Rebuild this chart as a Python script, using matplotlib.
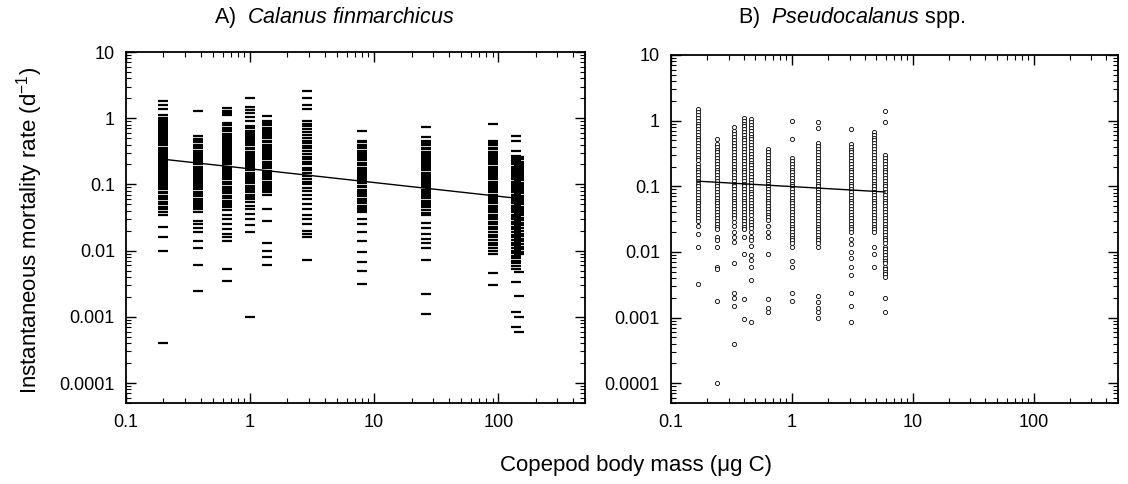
import numpy as np
import matplotlib
matplotlib.use("Agg")
import matplotlib.pyplot as plt

plt.rcParams["font.family"] = ["Liberation Sans", "DejaVu Sans"]
plt.rcParams["mathtext.fontset"] = "custom"
plt.rcParams["mathtext.rm"] = "Liberation Sans"
plt.rcParams["mathtext.it"] = "Liberation Sans:italic"

# --- data ---------------------------------------------------------------
# Panel A: Calanus finmarchicus (body mass in ug C, mortality in d^-1)
cal_mass = [0.2, 0.38, 0.65, 1.0, 1.37, 2.9, 8.0, 26.0, 90.0, 138.0, 146.0]
cal_rates = [
    [1.85, 1.6, 1.4, 1.1, 1.0, 0.93, 0.87, 0.82, 0.77, 0.72, 0.68, 0.64, 0.6, 0.56, 0.53, 0.5,
     0.47, 0.44, 0.41, 0.39, 0.36, 0.34, 0.32, 0.3, 0.28, 0.26, 0.245, 0.23, 0.215, 0.2, 0.19,
     0.175, 0.165, 0.155, 0.145, 0.135, 0.125, 0.118, 0.11, 0.103, 0.096, 0.09, 0.084, 0.078,
     0.073, 0.068, 0.064, 0.06, 0.055, 0.05, 0.046, 0.042, 0.038, 0.034, 0.023, 0.016, 0.01,
     0.0004],
    [1.28, 0.54, 0.49, 0.46, 0.43, 0.4, 0.37, 0.35, 0.32, 0.3, 0.28, 0.26, 0.245, 0.23, 0.215,
     0.2, 0.185, 0.17, 0.16, 0.15, 0.14, 0.13, 0.12, 0.112, 0.105, 0.098, 0.09, 0.084, 0.078,
     0.072, 0.066, 0.061, 0.057, 0.053, 0.049, 0.046, 0.043, 0.039, 0.028, 0.025, 0.022, 0.019,
     0.014, 0.011, 0.006, 0.0025],
    [1.45, 1.3, 1.2, 1.1, 0.84, 0.78, 0.72, 0.67, 0.63, 0.58, 0.54, 0.5, 0.47, 0.44, 0.41, 0.38,
     0.35, 0.33, 0.31, 0.29, 0.27, 0.25, 0.23, 0.215, 0.2, 0.185, 0.17, 0.16, 0.15, 0.14, 0.13,
     0.12, 0.11, 0.1, 0.093, 0.086, 0.079, 0.073, 0.067, 0.062, 0.057, 0.053, 0.049, 0.045,
     0.041, 0.034, 0.03, 0.025, 0.021, 0.018, 0.016, 0.014, 0.0052, 0.0035],
    [2.0, 1.5, 1.35, 1.2, 1.05, 0.92, 0.75, 0.7, 0.65, 0.6, 0.56, 0.52, 0.48, 0.45, 0.42, 0.39,
     0.36, 0.34, 0.31, 0.29, 0.27, 0.25, 0.235, 0.22, 0.2, 0.19, 0.175, 0.165, 0.15, 0.14, 0.13,
     0.12, 0.112, 0.104, 0.096, 0.089, 0.082, 0.076, 0.07, 0.065, 0.061, 0.055, 0.048, 0.042,
     0.036, 0.03, 0.024, 0.019, 0.001],
    [1.07, 0.9, 0.84, 0.78, 0.72, 0.67, 0.62, 0.58, 0.54, 0.5, 0.46, 0.43, 0.4, 0.37, 0.34, 0.32,
     0.3, 0.28, 0.26, 0.24, 0.22, 0.205, 0.19, 0.175, 0.16, 0.15, 0.14, 0.13, 0.12, 0.11, 0.102,
     0.095, 0.088, 0.082, 0.076, 0.07, 0.043, 0.028, 0.013, 0.01, 0.008, 0.006],
    [2.6, 2.0, 1.6, 1.4, 0.9, 0.82, 0.75, 0.68, 0.62, 0.56, 0.51, 0.46, 0.42, 0.38, 0.35, 0.32,
     0.29, 0.26, 0.24, 0.22, 0.2, 0.18, 0.165, 0.15, 0.135, 0.12, 0.11, 0.1, 0.088, 0.08, 0.07,
     0.06, 0.05, 0.042, 0.035, 0.03, 0.025, 0.02, 0.018, 0.016, 0.0073],
    [0.63, 0.46, 0.43, 0.4, 0.37, 0.35, 0.32, 0.3, 0.28, 0.26, 0.245, 0.23, 0.21, 0.195, 0.18,
     0.17, 0.16, 0.15, 0.14, 0.13, 0.12, 0.112, 0.104, 0.096, 0.09, 0.083, 0.077, 0.071, 0.066,
     0.061, 0.056, 0.052, 0.048, 0.044, 0.041, 0.039, 0.03, 0.025, 0.019, 0.014, 0.0097, 0.0068,
     0.005, 0.0031],
    [0.73, 0.52, 0.45, 0.42, 0.39, 0.36, 0.34, 0.31, 0.29, 0.27, 0.25, 0.235, 0.22, 0.205, 0.19,
     0.175, 0.165, 0.15, 0.14, 0.13, 0.12, 0.112, 0.104, 0.097, 0.09, 0.083, 0.077, 0.072, 0.067,
     0.062, 0.057, 0.053, 0.049, 0.045, 0.041, 0.037, 0.034, 0.026, 0.022, 0.018, 0.015, 0.013,
     0.011, 0.0073, 0.0022, 0.0011],
    [0.81, 0.45, 0.42, 0.39, 0.36, 0.34, 0.31, 0.29, 0.27, 0.25, 0.23, 0.215, 0.2, 0.185, 0.17,
     0.16, 0.15, 0.14, 0.13, 0.12, 0.11, 0.102, 0.095, 0.088, 0.082, 0.076, 0.07, 0.065, 0.06,
     0.056, 0.052, 0.048, 0.044, 0.041, 0.038, 0.035, 0.032, 0.03, 0.027, 0.025, 0.023, 0.021,
     0.019, 0.0175, 0.016, 0.0145, 0.0132, 0.012, 0.011, 0.01, 0.009, 0.0046, 0.003],
    [0.53, 0.45, 0.32, 0.27, 0.25, 0.23, 0.215, 0.2, 0.185, 0.17, 0.16, 0.15, 0.14, 0.13, 0.12,
     0.11, 0.102, 0.095, 0.088, 0.082, 0.076, 0.07, 0.065, 0.06, 0.056, 0.052, 0.048, 0.044,
     0.041, 0.038, 0.035, 0.032, 0.03, 0.027, 0.025, 0.023, 0.021, 0.019, 0.0175, 0.016, 0.0145,
     0.0132, 0.012, 0.011, 0.01, 0.0092, 0.0084, 0.0077, 0.007, 0.0064, 0.0058, 0.0053, 0.0034,
     0.0012, 0.0007],
    [0.26, 0.24, 0.22, 0.205, 0.19, 0.175, 0.165, 0.155, 0.145, 0.135, 0.125, 0.115, 0.106,
     0.098, 0.091, 0.085, 0.079, 0.073, 0.068, 0.063, 0.058, 0.054, 0.05, 0.046, 0.043, 0.04,
     0.037, 0.034, 0.031, 0.029, 0.026, 0.024, 0.022, 0.02, 0.018, 0.0165, 0.015, 0.0138,
     0.0126, 0.0115, 0.0105, 0.0096, 0.0088, 0.0048, 0.0021, 0.001, 0.0006],
]
cal_fit = (0.172, -0.207)   # rate = a * mass**b

# Panel B: Pseudocalanus spp.
pse_mass = [0.166, 0.24, 0.33, 0.40, 0.46, 0.63, 1.0, 1.66, 3.07, 4.8, 5.9]
pse_rates = [
    [1.5, 1.35, 1.22, 1.1, 1.0, 0.9, 0.82, 0.74, 0.67, 0.6, 0.55, 0.5, 0.45, 0.41, 0.37, 0.33,
     0.3, 0.27, 0.25, 0.22, 0.2, 0.18, 0.165, 0.15, 0.135, 0.12, 0.11, 0.1, 0.09, 0.082, 0.074,
     0.067, 0.06, 0.055, 0.05, 0.045, 0.041, 0.037, 0.033, 0.03, 0.025, 0.019, 0.012, 0.0032],
    [0.52, 0.44, 0.4, 0.36, 0.33, 0.3, 0.27, 0.245, 0.22, 0.2, 0.18, 0.165, 0.15, 0.135, 0.12,
     0.11, 0.1, 0.09, 0.082, 0.074, 0.067, 0.06, 0.055, 0.05, 0.045, 0.041, 0.037, 0.033, 0.03,
     0.027, 0.024, 0.022, 0.017, 0.015, 0.012, 0.006, 0.0055, 0.0018, 0.0001],
    [0.79, 0.69, 0.62, 0.56, 0.5, 0.45, 0.41, 0.37, 0.33, 0.3, 0.27, 0.245, 0.22, 0.2, 0.18,
     0.165, 0.15, 0.135, 0.12, 0.11, 0.1, 0.09, 0.082, 0.074, 0.067, 0.06, 0.055, 0.05, 0.045,
     0.041, 0.037, 0.033, 0.029, 0.025, 0.02, 0.017, 0.014, 0.0069, 0.0024, 0.002, 0.0015,
     0.0004],
    [1.1, 1.0, 0.9, 0.82, 0.74, 0.67, 0.6, 0.55, 0.5, 0.45, 0.41, 0.37, 0.33, 0.3, 0.27, 0.245,
     0.22, 0.2, 0.18, 0.165, 0.15, 0.135, 0.12, 0.11, 0.1, 0.09, 0.082, 0.074, 0.067, 0.06,
     0.055, 0.05, 0.045, 0.041, 0.037, 0.033, 0.03, 0.027, 0.024, 0.022, 0.017, 0.0092, 0.0019,
     0.00094],
    [1.05, 0.95, 0.86, 0.78, 0.7, 0.63, 0.57, 0.52, 0.47, 0.42, 0.38, 0.34, 0.31, 0.28, 0.25,
     0.23, 0.21, 0.19, 0.17, 0.155, 0.14, 0.125, 0.113, 0.102, 0.092, 0.083, 0.075, 0.068,
     0.061, 0.055, 0.05, 0.045, 0.04, 0.036, 0.032, 0.029, 0.026, 0.023, 0.02, 0.017, 0.015,
     0.0125, 0.009, 0.0075, 0.006, 0.0038, 0.00085],
    [0.37, 0.33, 0.3, 0.27, 0.245, 0.22, 0.2, 0.18, 0.165, 0.15, 0.135, 0.12, 0.11, 0.1, 0.09,
     0.082, 0.074, 0.067, 0.06, 0.055, 0.05, 0.045, 0.041, 0.037, 0.034, 0.031, 0.025, 0.02,
     0.017, 0.0092, 0.0019, 0.0014, 0.0012],
    [0.98, 0.52, 0.27, 0.245, 0.22, 0.2, 0.18, 0.165, 0.15, 0.135, 0.12, 0.11, 0.1, 0.09, 0.082,
     0.074, 0.067, 0.06, 0.055, 0.05, 0.045, 0.041, 0.037, 0.033, 0.03, 0.027, 0.024, 0.022,
     0.02, 0.018, 0.0165, 0.015, 0.0135, 0.012, 0.0072, 0.006, 0.0024, 0.0018],
    [0.95, 0.77, 0.45, 0.41, 0.37, 0.33, 0.3, 0.27, 0.245, 0.22, 0.2, 0.18, 0.165, 0.15, 0.135,
     0.12, 0.11, 0.1, 0.09, 0.082, 0.074, 0.067, 0.06, 0.055, 0.05, 0.045, 0.041, 0.037, 0.033,
     0.03, 0.027, 0.024, 0.022, 0.02, 0.018, 0.0165, 0.015, 0.0135, 0.012, 0.0021, 0.0017,
     0.0014, 0.0012, 0.001],
    [0.74, 0.44, 0.4, 0.36, 0.33, 0.3, 0.27, 0.245, 0.22, 0.2, 0.18, 0.165, 0.15, 0.135, 0.12,
     0.11, 0.1, 0.09, 0.082, 0.074, 0.067, 0.06, 0.055, 0.05, 0.045, 0.041, 0.037, 0.033, 0.03,
     0.027, 0.024, 0.022, 0.02, 0.016, 0.013, 0.01, 0.008, 0.006, 0.0045, 0.0024, 0.0015,
     0.00085],
    [0.66, 0.6, 0.55, 0.5, 0.45, 0.41, 0.37, 0.33, 0.3, 0.27, 0.245, 0.22, 0.2, 0.18, 0.165,
     0.15, 0.135, 0.12, 0.11, 0.1, 0.09, 0.082, 0.074, 0.067, 0.06, 0.055, 0.05, 0.045, 0.041,
     0.037, 0.033, 0.03, 0.027, 0.024, 0.022, 0.02, 0.012, 0.0092, 0.0058],
    [1.4, 0.95, 0.3, 0.27, 0.245, 0.22, 0.2, 0.18, 0.165, 0.15, 0.135, 0.12, 0.11, 0.1, 0.09,
     0.082, 0.074, 0.067, 0.06, 0.055, 0.05, 0.045, 0.041, 0.037, 0.033, 0.03, 0.027, 0.024,
     0.022, 0.02, 0.018, 0.0165, 0.015, 0.0135, 0.012, 0.011, 0.01, 0.009, 0.0082, 0.0074,
     0.0067, 0.006, 0.0055, 0.005, 0.0046, 0.0042, 0.002, 0.0012],
]
pse_fit = (0.099, -0.106)

x_ticks = [0.1, 1, 10, 100]
x_ticklabels = ["0.1", "1", "10", "100"]
y_ticks = [1e-4, 1e-3, 1e-2, 1e-1, 1, 10]
y_ticklabels = ["0.0001", "0.001", "0.01", "0.1", "1", "10"]


def style_axis(ax):
    ax.set_xscale("log")
    ax.set_yscale("log")
    ax.set_xlim(0.1, 500)
    ax.set_ylim(5e-5, 10)
    ax.set_xticks(x_ticks)
    ax.set_xticklabels(x_ticklabels)
    ax.set_yticks(y_ticks)
    ax.set_yticklabels(y_ticklabels)
    ax.tick_params(which="both", direction="in", top=True, right=True,
                   labelsize=13, pad=8)
    ax.tick_params(which="major", length=7, width=1.0)
    ax.tick_params(which="minor", length=3.5, width=0.8)
    for sp in ax.spines.values():
        sp.set_linewidth(1.3)


def plot_panel(ax, masses, rates, fit, marker_kw):
    for m, r in zip(masses, rates):
        ax.plot([m] * len(r), r, linestyle="none", **marker_kw)
    a, b = fit
    xs = np.array([min(masses), max(masses)])
    ax.plot(xs, a * xs ** b, color="black", linewidth=1.0, zorder=5)


fig = plt.figure(figsize=(11.28, 4.84), dpi=100)
ax1 = fig.add_axes([126 / 1128, 81 / 484, 459 / 1128, 351 / 484])
ax2 = fig.add_axes([671 / 1128, 81 / 484, 447 / 1128, 348 / 484])

plot_panel(ax1, cal_mass, cal_rates, cal_fit,
           dict(marker="_", markersize=7, markeredgewidth=1.6, color="black"))
plot_panel(ax2, pse_mass, pse_rates, pse_fit,
           dict(marker="o", markersize=3, markeredgewidth=0.6,
                markerfacecolor="white", markeredgecolor="black"))

style_axis(ax1)
style_axis(ax2)

fig.text(334 / 1128, 1 - 18 / 484, r"A)  $\mathit{Calanus\ finmarchicus}$",
         ha="center", va="center", fontsize=15.5)
fig.text(852 / 1128, 1 - 18 / 484, r"B)  $\mathit{Pseudocalanus}$ spp.",
         ha="center", va="center", fontsize=15.5)
fig.text(30 / 1128, 1 - 230 / 484, r"Instantaneous mortality rate (d$^{-1}$)",
         rotation=90, ha="center", va="center", fontsize=16)
fig.text(636 / 1128, 1 - 465 / 484, "Copepod body mass (\u03bcg C)",
         ha="center", va="center", fontsize=16)

fig.savefig("out.png", dpi=100, facecolor="white")
